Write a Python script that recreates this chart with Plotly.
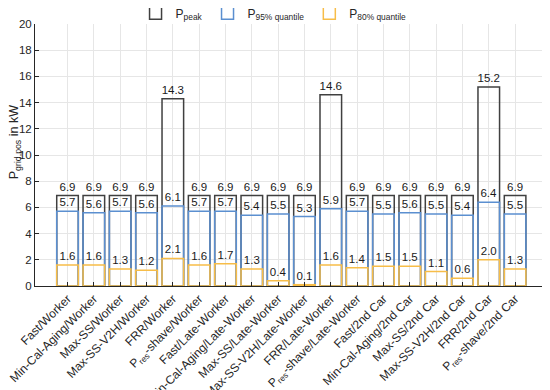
import plotly.graph_objects as go

categories = [
    "Fast/Worker", "Min-Cal-Aging/Worker", "Max-SS/Worker", "Max-SS-V2H/Worker",
    "FRR/Worker", "P<sub>res</sub>-shave/Worker",
    "Fast/Late-Worker", "Min-Cal-Aging/Late-Worker", "Max-SS/Late-Worker",
    "Max-SS-V2H/Late-Worker", "FRR/Late-Worker", "P<sub>res</sub>-shave/Late-Worker",
    "Fast/2nd Car", "Min-Cal-Aging/2nd Car", "Max-SS/2nd Car", "Max-SS-V2H/2nd Car",
    "FRR/2nd Car", "P<sub>res</sub>-shave/2nd Car",
]
p_peak = [6.9, 6.9, 6.9, 6.9, 14.3, 6.9, 6.9, 6.9, 6.9, 6.9, 14.6, 6.9, 6.9, 6.9, 6.9, 6.9, 15.2, 6.9]
p_95 = [5.7, 5.6, 5.7, 5.6, 6.1, 5.7, 5.7, 5.4, 5.5, 5.3, 5.9, 5.7, 5.5, 5.6, 5.5, 5.4, 6.4, 5.5]
p_80 = [1.6, 1.6, 1.3, 1.2, 2.1, 1.6, 1.7, 1.3, 0.4, 0.1, 1.6, 1.4, 1.5, 1.5, 1.1, 0.6, 2.0, 1.3]
y_ticks = list(range(0, 21, 2))

FONT = "Liberation Sans, Arial, sans-serif"
series = [
    ("P<sub>peak</sub>", p_peak, "#404040"),
    ("P<sub>95% quantile</sub>", p_95, "#5b8fd0"),
    ("P<sub>80% quantile</sub>", p_80, "#f7bd48"),
]

fig = go.Figure()
for name, vals, col in series:
    fig.add_trace(go.Bar(
        x=categories, y=vals, name=name, width=0.82,
        marker=dict(color="rgba(255,255,255,0)", line=dict(color=col, width=1.5)),
        texttemplate="%{y:.1f}", textposition="outside",
        textfont=dict(family=FONT, size=11.5, color="#1a1a1a"),
        cliponaxis=False, constraintext="none",
    ))

fig.add_annotation(
    text="P<sub>grid,pos</sub> in kW", textangle=-90,
    xref="paper", yref="paper", x=-0.052, y=0.55, xshift=-3,
    xanchor="left", yanchor="middle", showarrow=False,
    font=dict(family=FONT, size=12.5, color="#262626"),
)

# page body has an 8px default margin, so the figure is sized to fit the window
fig.update_layout(
    width=542, height=382,
    margin=dict(l=27, r=2, t=16, b=104, autoexpand=False),
    barmode="overlay",
    plot_bgcolor="white", paper_bgcolor="white",
    font=dict(family=FONT, size=12, color="#262626"),
    showlegend=True,
    legend=dict(orientation="h", x=0.465, xanchor="center", y=0.986, yanchor="bottom",
                font=dict(size=12), bgcolor="rgba(0,0,0,0)", traceorder="normal",
                itemwidth=30),
    xaxis=dict(
        type="category", range=[-1.235, 18.25], tickangle=-45,
        showgrid=True, gridcolor="#e6e6e6", gridwidth=1,
        showline=True, linecolor="#262626", linewidth=1,
        ticks="inside", ticklen=4, tickcolor="#262626",
        tickfont=dict(size=12, color="#262626"), automargin=False,
    ),
    yaxis=dict(
        range=[0, 20], tickvals=y_ticks,
        showgrid=True, gridcolor="#e6e6e6", gridwidth=1,
        showline=True, linecolor="#262626", linewidth=1,
        ticks="inside", ticklen=4, tickcolor="#262626",
        tickfont=dict(size=11.5, color="#262626"), zeroline=False, automargin=False,
    ),
)
fig.write_html("out.html")
